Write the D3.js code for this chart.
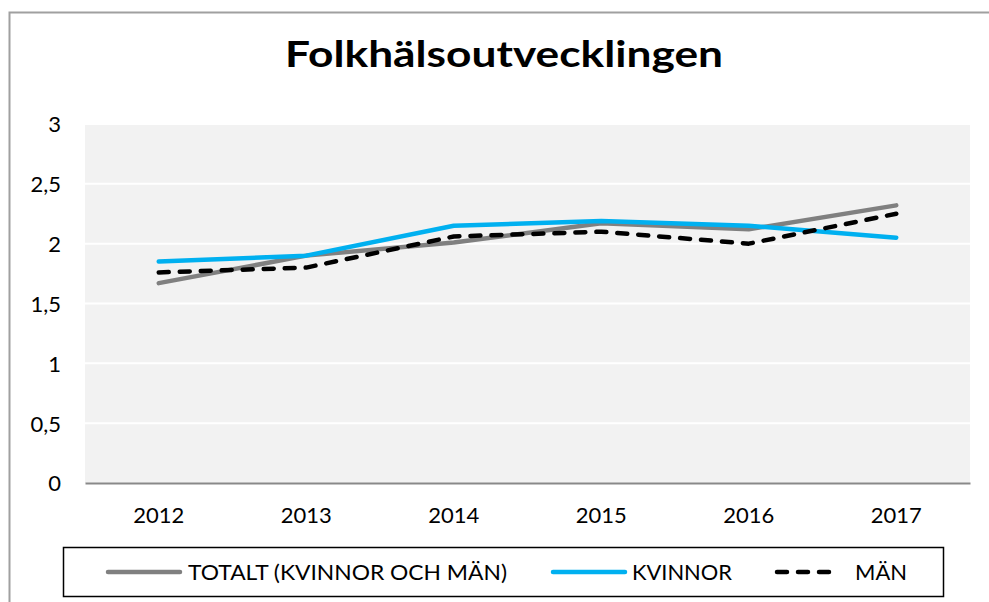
<!DOCTYPE html>
<html>
<head>
<meta charset="utf-8">
<script src="https://cdn.jsdelivr.net/npm/d3@7"></script>
<style>
  body { margin: 0; background: #fff; }
  svg { display: block; font-family: Lato, "Open Sans", sans-serif; }
</style>
</head>
<body>
<div id="chart"></div>
<script>
// data
var years = ["2012", "2013", "2014", "2015", "2016", "2017"];
var totalt = [1.67, 1.90, 2.01, 2.17, 2.12, 2.32];
var kvinnor = [1.85, 1.90, 2.15, 2.19, 2.15, 2.05];
var man = [1.76, 1.80, 2.06, 2.10, 2.00, 2.25];
var yTicks = [0, 0.5, 1, 1.5, 2, 2.5, 3];

var series = [
  {name: "TOTALT (KVINNOR OCH MÄN)", values: totalt, color: "#808080", dash: null},
  {name: "KVINNOR", values: kvinnor, color: "#00b0f0", dash: null},
  {name: "MÄN", values: man, color: "#000000", dash: "10,11"}
];

var width = 989, height = 602;
var plot = {left: 85, right: 970, top: 124, bottom: 483};

var svg = d3.select("#chart").append("svg")
  .attr("width", width)
  .attr("height", height);

// outer chart border (only top and left are visible)
svg.append("rect")
  .attr("x", 9.5).attr("y", 12.5)
  .attr("width", 1000).attr("height", 700)
  .attr("fill", "none")
  .attr("stroke", "#a0a0a0")
  .attr("stroke-width", 2);

svg.append("text")
  .attr("x", 504).attr("y", 67)
  .attr("text-anchor", "middle")
  .attr("font-size", 36)
  .attr("font-weight", "bold")
  .attr("textLength", 438)
  .attr("lengthAdjust", "spacingAndGlyphs")
  .text("Folkhälsoutvecklingen");

var x = d3.scaleBand().domain(years).range([plot.left, plot.right]);
var y = d3.scaleLinear().domain([0, 3]).range([plot.bottom, plot.top]);

svg.append("rect")
  .attr("x", plot.left).attr("y", plot.top)
  .attr("width", plot.right - plot.left)
  .attr("height", plot.bottom - plot.top)
  .attr("fill", "#f2f2f2");

// gridlines
svg.append("g")
  .selectAll("line")
  .data(yTicks.filter(function(d) { return d > 0; }))
  .enter().append("line")
  .attr("x1", plot.left).attr("x2", plot.right)
  .attr("y1", function(d) { return y(d); })
  .attr("y2", function(d) { return y(d); })
  .attr("stroke", "#ffffff")
  .attr("stroke-width", 2);

// y axis labels
var yAxis = d3.axisLeft(y)
  .tickValues(yTicks)
  .tickSize(0)
  .tickPadding(0)
  .tickFormat(function(d) { return String(d).replace(".", ","); });
var gy = svg.append("g")
  .attr("transform", "translate(61,0)")
  .call(yAxis);
gy.select(".domain").remove();
gy.selectAll("text")
  .attr("font-family", "Lato, sans-serif")
  .attr("font-size", 22)
  .attr("fill", "#000")
  .attr("dy", "0.36em");

// x axis
var xAxis = d3.axisBottom(x).tickSize(0).tickPadding(0);
var gx = svg.append("g")
  .attr("transform", "translate(0," + plot.bottom + ")")
  .call(xAxis);
gx.select(".domain")
  .attr("stroke", "#898989")
  .attr("stroke-width", 2);
gx.selectAll("text")
  .attr("font-family", "Lato, sans-serif")
  .attr("font-size", 22)
  .attr("fill", "#000")
  .attr("dy", null)
  .attr("y", 40);

var line = d3.line()
  .x(function(d, i) { return x(years[i]) + x.bandwidth() / 2; })
  .y(function(d) { return y(d); });

svg.append("g")
  .selectAll("path")
  .data(series)
  .enter().append("path")
  .attr("d", function(s) { return line(s.values); })
  .attr("fill", "none")
  .attr("stroke", function(s) { return s.color; })
  .attr("stroke-width", 4.5)
  .attr("stroke-linecap", "round")
  .attr("stroke-linejoin", "round")
  .attr("stroke-dasharray", function(s) { return s.dash; });

// legend
var legend = svg.append("g");
legend.append("rect")
  .attr("x", 63.5).attr("y", 547.5)
  .attr("width", 880).attr("height", 49)
  .attr("fill", "#fff")
  .attr("stroke", "#000")
  .attr("stroke-width", 1.5);

var legendItems = [
  {x1: 108, x2: 180, tx: 188, tw: 319},
  {x1: 553, x2: 625, tx: 632, tw: 100},
  {x1: 777, x2: 838, tx: 855, tw: 52}
];
var li = legend.selectAll(".item")
  .data(series)
  .enter().append("g")
  .attr("class", "item");
li.append("line")
  .attr("x1", function(d, i) { return legendItems[i].x1; })
  .attr("x2", function(d, i) { return legendItems[i].x2; })
  .attr("y1", 572).attr("y2", 572)
  .attr("stroke", function(d) { return d.color; })
  .attr("stroke-width", 4.5)
  .attr("stroke-linecap", "round")
  .attr("stroke-dasharray", function(d) { return d.dash; });
li.append("text")
  .attr("x", function(d, i) { return legendItems[i].tx; })
  .attr("y", 580)
  .attr("font-size", 21)
  .attr("textLength", function(d, i) { return legendItems[i].tw; })
  .attr("lengthAdjust", "spacingAndGlyphs")
  .text(function(d) { return d.name; });
</script>
</body>
</html>
